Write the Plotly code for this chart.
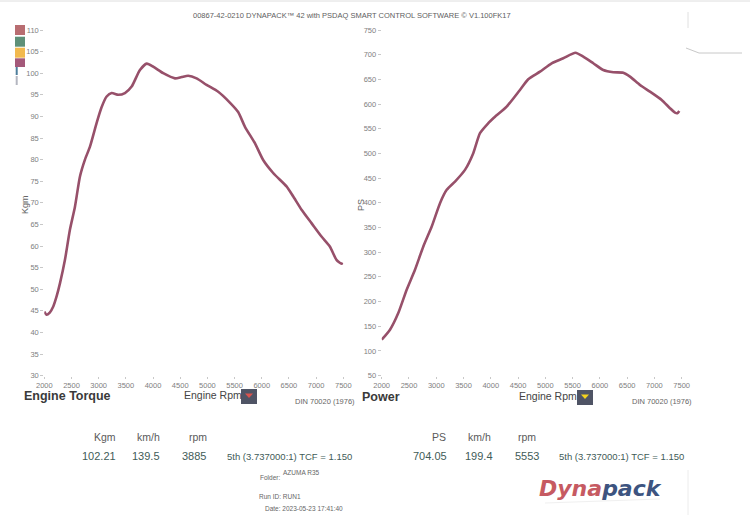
import plotly.graph_objects as go

# ---------------- data ----------------
torque_rpm = [2000, 2040, 2100, 2165, 2230, 2289, 2380, 2472, 2564, 2656, 2748, 2840, 2963,
              3050, 3147, 3239, 3360, 3483, 3607, 3759, 3885, 4004, 4188, 4403, 4526, 4647,
              4801, 4985, 5199, 5413, 5566, 5691, 5874, 6026, 6210, 6456, 6577, 6732, 6915,
              7099, 7252, 7375, 7467, 7490]
torque_kgm = [44.8, 44.1, 44.6, 46.0, 48.5, 51.4, 56.8, 63.8, 69.1, 76.1, 80.0, 83.0, 88.5,
              92.0, 94.6, 95.4, 95.0, 95.4, 96.9, 100.75, 102.21, 101.5, 100.0, 98.8, 99.1, 99.4,
              98.8, 97.3, 95.7, 93.2, 91.0, 87.6, 83.8, 79.9, 76.9, 73.8, 71.5, 68.4, 65.3,
              62.2, 59.9, 56.8, 55.9, 56.1]

power_rpm = [2000, 2152, 2304, 2458, 2610, 2763, 2917, 3069, 3192, 3344, 3527, 3679, 3802,
             3954, 4046, 4291, 4535, 4687, 4902, 5116, 5329, 5553, 5696, 5879, 6062, 6246,
             6429, 6552, 6735, 6918, 7133, 7285, 7377, 7420, 7456]
power_ps = [122.7, 143, 176.7, 224, 264.4, 311.5, 352, 399.3, 426.2, 443, 466.7, 500.5, 541,
            561.2, 571.3, 594.8, 628.6, 650.2, 665.6, 682.6, 692.7, 704.05, 696, 682.6, 669, 664.4,
            663.6, 655.6, 638.7, 625.2, 608.3, 591.6, 582.7, 581.5, 586]

rpm_ticks = [2000, 2500, 3000, 3500, 4000, 4500, 5000, 5500, 6000, 6500, 7000, 7500]
kgm_ticks = list(range(30, 111, 5))
ps_ticks = list(range(50, 751, 50))

title_text = "00867-42-0210 DYNAPACK\u2122 42 with PSDAQ SMART CONTROL SOFTWARE \u00a9 V1.100FK17"

# ---------------- figure ----------------
W, H = 750, 530
LINE = "#97506a"
FONT = "Liberation Sans, Arial, sans-serif"

def px(x):
    return x / W

def py(y):
    return 1 - y / H

fig = go.Figure()
fig.add_trace(go.Scatter(x=torque_rpm, y=torque_kgm, mode="lines",
                         line=dict(color=LINE, width=2.6, shape="spline", smoothing=0.6),
                         xaxis="x", yaxis="y", showlegend=False, hoverinfo="x+y"))
fig.add_trace(go.Scatter(x=power_rpm, y=power_ps, mode="lines",
                         line=dict(color=LINE, width=2.6, shape="spline", smoothing=0.6),
                         xaxis="x2", yaxis="y2", showlegend=False, hoverinfo="x+y"))

def axis(**kw):
    d = dict(showgrid=False, zeroline=False, showline=False, ticks="outside",
             ticklen=3, tickwidth=1, tickcolor="#c8c8c8", automargin=False,
             tickfont=dict(family=FONT, size=7.5, color="#808080"), fixedrange=True)
    d.update(kw)
    return d

ydom = [py(375.6), py(30)]
fig.update_layout(
    width=W, height=H, autosize=False,
    margin=dict(l=0, r=0, t=0, b=0, pad=0, autoexpand=False),
    paper_bgcolor="white", plot_bgcolor="white", showlegend=False,
    xaxis=axis(domain=[px(44.3), px(343.3)], range=[2000, 7500], tickvals=rpm_ticks,
               anchor="y", ticklen=2),
    yaxis=axis(domain=ydom, range=[30, 110], tickvals=kgm_ticks, anchor="x"),
    xaxis2=axis(domain=[px(381.7), px(681.7)], range=[2000, 7500], tickvals=rpm_ticks,
                anchor="y2", ticklen=2),
    yaxis2=axis(domain=ydom, range=[50, 750], tickvals=ps_ticks, anchor="x2"),
)

ann = []

def text(x, y, s, size=10, color="#555", family=FONT, xanchor="left", yanchor="middle", angle=0):
    ann.append(dict(x=px(x), y=py(y), xref="paper", yref="paper", text=s, showarrow=False,
                    xanchor=xanchor, yanchor=yanchor, textangle=angle,
                    font=dict(size=size, color=color, family=family)))

text(352, 16, title_text, size=7.5, color="#606060", xanchor="center")
text(25, 205, "Kgm", size=9, color="#666", xanchor="center", angle=-90)
text(361, 205, "PS", size=9, color="#666", xanchor="center", angle=-90)

text(22, 396, "<b>Engine Torque</b>", size=12.5, color="#3a3a3a")
text(182, 395, "Engine Rpm", size=10.5, color="#444")
text(293, 401, "DIN 70020 (1976)", size=7.5, color="#666")
text(360, 397, "<b>Power</b>", size=12.5, color="#3a3a3a")
text(517, 396, "Engine Rpm", size=10.5, color="#444")
text(630, 401, "DIN 70020 (1976)", size=7.5, color="#666")

HEAD = "#5a5a5a"
VAL = "#3f5c58"
text(118, 437, "Kgm", size=10.5, color=HEAD, xanchor="right")
text(162, 437, "km/h", size=10.5, color=HEAD, xanchor="right")
text(209, 437, "rpm", size=10.5, color=HEAD, xanchor="right")
text(118, 456, "102.21", size=11, color=VAL, xanchor="right")
text(162, 456, "139.5", size=11, color=VAL, xanchor="right")
text(208, 456, "3885", size=11, color=VAL, xanchor="right")
text(225, 456, "5th (3.737000:1) TCF = 1.150", size=9.5, color=VAL)

text(448, 437, "PS", size=10.5, color=HEAD, xanchor="right")
text(493, 437, "km/h", size=10.5, color=HEAD, xanchor="right")
text(538, 437, "rpm", size=10.5, color=HEAD, xanchor="right")
text(449, 456, "704.05", size=11, color=VAL, xanchor="right")
text(495, 456, "199.4", size=11, color=VAL, xanchor="right")
text(541, 456, "5553", size=11, color=VAL, xanchor="right")
text(557, 456, "5th (3.737000:1) TCF = 1.150", size=9.5, color=VAL)

text(258, 477, "Folder:", size=6.5, color="#666")
text(281, 472, "AZUMA R35", size=6.5, color="#666")
text(257, 496, "Run ID: RUN1", size=6.5, color="#666")
text(263, 508, "Date: 2023-05-23 17:41:40", size=6.5, color="#666")

ann.append(dict(x=px(537), y=py(488), xref="paper", yref="paper", showarrow=False,
                xanchor="left", yanchor="middle",
                text="<b><i><span style='color:#c65a62'>Dyna</span><span style='color:#3d5480'>pack</span></i></b>",
                font=dict(size=22, family="DejaVu Sans, Liberation Sans, sans-serif")))

fig.update_layout(annotations=ann)

shapes = []

def rect(x0, y0, x1, y1, fill):
    shapes.append(dict(type="rect", xref="paper", yref="paper", x0=px(x0), x1=px(x1),
                       y0=py(y1), y1=py(y0), fillcolor=fill, line=dict(width=0)))

# legend swatches
rect(15, 25, 25, 35, "#b86d71")
rect(15, 36.7, 25, 46.7, "#5e9078")
rect(15, 47.7, 25, 57.7, "#f2b94e")
rect(15, 58.3, 25, 67, "#a4597a")
rect(15.7, 67, 17.7, 75, "#4d7e9c")
rect(15.7, 76, 17.7, 85, "#b4b6c0")

# dropdown buttons
def button(x0, y0, color):
    rect(x0, y0, x0 + 16, y0 + 15, "#4f5465")
    cx, cy = x0 + 8, y0 + 6
    shapes.append(dict(type="path", xref="paper", yref="paper",
                       path=f"M {px(cx-4)} {py(cy-1.5)} L {px(cx+4)} {py(cy-1.5)} L {px(cx)} {py(cy+3)} Z",
                       fillcolor=color, line=dict(width=0)))

button(241, 389, "#d9534f")
button(577, 390, "#f3d21f")

def seg(x0, y0, x1, y1, color="#d0d0d0", w=1):
    shapes.append(dict(type="line", xref="paper", yref="paper", x0=px(x0), y0=py(y0),
                       x1=px(x1), y1=py(y1), line=dict(color=color, width=w)))

seg(0, 1, 750, 1, "#dedede")
seg(688, 12, 688, 28, "#e0e0e0")
seg(686, 48, 699, 53, "#c8c8c8")
seg(699, 53, 742, 53, "#c8c8c8")
seg(688, 470, 688, 515, "#ececec")
seg(545, 503, 660, 499, "#f0f0f0")

fig.update_layout(shapes=shapes)

fig.write_html("out.html", config={"displayModeBar": False},
               post_script="document.body.style.margin='0';document.body.style.padding='0';")
